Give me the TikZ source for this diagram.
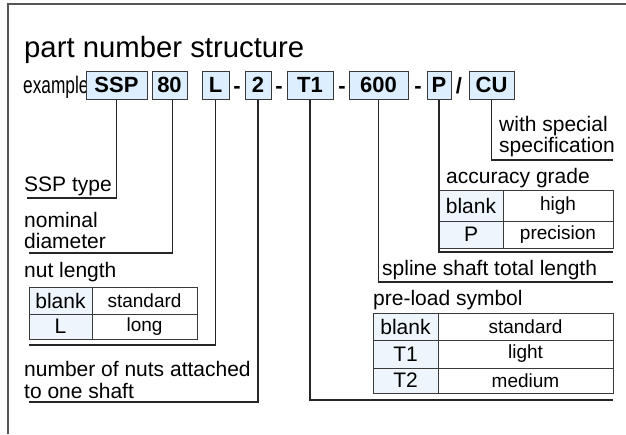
\documentclass[tikz,border=0pt]{standalone}
\usepackage{fontspec}
\setmainfont{Liberation Sans}
\newfontfamily\condfont[FakeStretch=0.72]{Liberation Sans}
\definecolor{boxfill}{HTML}{DDEEFF}
\definecolor{cellfill}{HTML}{EEF5FD}
\definecolor{bordc}{HTML}{3A3A3A}
\definecolor{framec}{HTML}{555555}
\begin{document}
\begin{tikzpicture}[x=1pt,y=-1pt,
  lbl/.style={anchor=base west,inner sep=0,font=\fontsize{21}{24}\selectfont},
  pbox/.style={draw=bordc,line width=1pt,fill=boxfill,inner sep=0,minimum height=28pt,font=\fontsize{22}{24}\selectfont\bfseries},
  sep/.style={anchor=base,inner sep=0,font=\fontsize{22}{24}\selectfont\bfseries},
  cellk/.style={draw=bordc,line width=0.9pt,fill=cellfill,inner sep=0,font=\fontsize{21}{24}\selectfont},
  cellv/.style={draw=bordc,line width=0.9pt,fill=white,inner sep=0,font=\fontsize{19}{22}\selectfont},
  conn/.style={draw=black!85,line width=1.1pt}]
\useasboundingbox (0,0) rectangle (626,434);
% frame
\draw[framec,line width=1.6pt] (8,434) -- (8,4) -- (626,4);
% title
\node[anchor=base west,inner sep=0,font=\fontsize{29.3}{32}\selectfont] (title) at (24,57) {part number structure};
\node[anchor=base west,inner sep=0,font=\fontsize{24}{26}\selectfont\condfont] (ex) at (23,93) {example};
% part boxes
\node[pbox,minimum width=61pt] (bssp) at (116.5,85) {SSP};
\node[pbox,minimum width=35pt] (b80) at (169.5,85) {80};
\node[pbox,minimum width=27pt] (bl) at (215.5,85) {L};
\node[sep] (d1) at (237,93) {-};
\node[pbox,minimum width=26pt] (b2) at (258,85) {2};
\node[sep] (d2) at (279,93) {-};
\node[pbox,minimum width=46pt] (bt1) at (310,85) {T1};
\node[sep] (d3) at (342,93) {-};
\node[pbox,minimum width=59pt] (b600) at (378.5,85) {600};
\node[sep] (d4) at (418,93) {-};
\node[pbox,minimum width=24pt] (bp) at (439,85) {P};
\node[sep] (sl) at (459,93) {/};
\node[pbox,minimum width=45pt] (bcu) at (491.5,85) {CU};
% labels left
\node[lbl] (tssp) at (24,191) {SSP type};
\node[lbl] (tnom1) at (24,227) {nominal};
\node[lbl] (tnom2) at (24,248) {diameter};
\node[lbl] (tnut) at (24,277) {nut length};
\node[lbl] (tnum1) at (24,376) {number of nuts attached};
\node[lbl] (tnum2) at (24,398) {to one shaft};
% labels right
\node[lbl] (tcu1) at (499,131) {with special};
\node[lbl] (tcu2) at (499,152) {specification};
\node[lbl] (tacc) at (446,183) {accuracy grade};
\node[lbl] (tspl) at (382,275) {spline shaft total length};
\node[lbl] (tpre) at (373,305) {pre-load symbol};
% nut length table
\node[cellk,minimum width=63pt,minimum height=27pt] (nb) at (60.5,300.5) {blank};
\node[cellv,minimum width=105pt,minimum height=27pt] (ns) at (144.5,300.5) {standard};
\node[cellk,minimum width=63pt,minimum height=25pt] (nl) at (60.5,326.5) {L};
\node[cellv,minimum width=105pt,minimum height=25pt] (nlo) at (144.5,326.5) {long};
% accuracy table
\node[cellk,minimum width=64pt,minimum height=31pt] (ab) at (471,205.5) {blank};
\node[cellv,minimum width=110pt,minimum height=31pt] (ah) at (558,205.5) {high};
\node[cellk,minimum width=64pt,minimum height=27pt] (ap) at (471,234.5) {P};
\node[cellv,minimum width=110pt,minimum height=27pt] (apr) at (558,234.5) {precision};
% pre-load table
\node[cellk,minimum width=65pt,minimum height=27pt] (pb) at (405.5,326.5) {blank};
\node[cellv,minimum width=175pt,minimum height=27pt] (ps) at (525.5,326.5) {standard};
\node[cellk,minimum width=65pt,minimum height=28pt] (p1) at (405.5,354) {T1};
\node[cellv,minimum width=175pt,minimum height=28pt] (pl) at (525.5,354) {light};
\node[cellk,minimum width=65pt,minimum height=25pt] (p2) at (405.5,380.5) {T2};
\node[cellv,minimum width=175pt,minimum height=25pt] (pm) at (525.5,380.5) {medium};
% connector ends
\coordinate (essp) at (27,198);
\coordinate (e80) at (29,253);
\coordinate (el) at (29,345);
\coordinate (e2) at (29,402);
\coordinate (et1) at (613,400);
\coordinate (e600) at (613,282);
\coordinate (ep) at (613,252);
\coordinate (ecu) at (613,160);
% connectors
\draw[conn] (bssp.south) |- (essp);
\draw[conn] ([xshift=3pt]b80.south) |- (e80);
\draw[conn] (bl.south) |- (el);
\draw[conn] (b2.south) |- (e2);
\draw[conn] (bt1.south) |- (et1);
\draw[conn] (b600.south) |- (e600);
\draw[conn] (bp.south) |- (ep);
\draw[conn] (bcu.south) |- (ecu);
\end{tikzpicture}
\end{document}
